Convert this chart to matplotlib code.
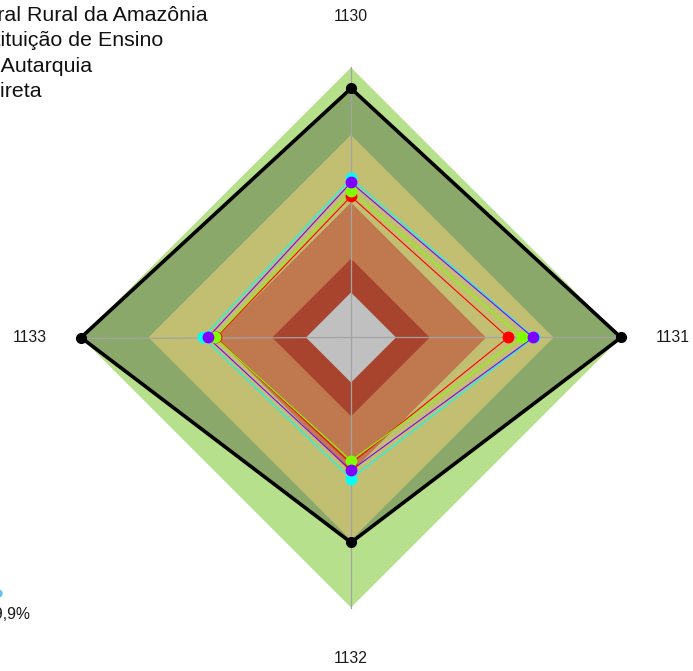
import numpy as np
import matplotlib
matplotlib.use("Agg")
import matplotlib.pyplot as plt
from matplotlib.lines import Line2D

plt.rcParams['font.family'] = ['Liberation Sans', 'DejaVu Sans']

# radar axes (clockwise from top)
axis_labels = ["1130", "1131", "1132", "1133"]

# series values, 0..1
ufra = [0.907, 1.0, 0.711, 1.0]
ensino = [0.427, 0.498, 0.360, 0.400]
autarquia = [0.449, 0.560, 0.347, 0.404]
geral = [0.507, 0.613, 0.427, 0.458]
indireta = [0.489, 0.609, 0.391, 0.436]

legend_labels = ["Universidade Federal Rural da Amazônia", "Instituição de Ensino",
                 "Natureza: Autarquia", "Administração Indireta"]

# background bands (upper limits), outer -> inner
band_limits = [1.0, 0.70, 0.40, 0.15, 0.0]
band_colors = ["#b6e08b", "#c2bf73", "#c0784f", "#a8432d", "#c0c0c0"]

CENTER = 1 / 6  # inner gap of the radar


def radius(v):
    return CENTER + (1 - CENTER) * np.asarray(v, dtype=float)


angles = np.pi / 2 - 2 * np.pi * np.arange(len(axis_labels)) / len(axis_labels)


def to_xy(values):
    r = radius(values)
    x = r * np.cos(angles)
    y = r * np.sin(angles)
    return np.append(x, x[0]), np.append(y, y[0])


W, H = 693, 671
cx, cy, R = 351, 337.5, 270.0
fig = plt.figure(figsize=(W / 100, H / 100), dpi=100)
ax = fig.add_axes([0, 0, 1, 1])
ax.set_xlim(-cx / R, (W - cx) / R)
ax.set_ylim(-(H - cy) / R, cy / R)
ax.axis("off")

# outer band
x, y = to_xy([band_limits[0]] * 4)
ax.fill(x, y, color=band_colors[0], lw=0, zorder=1)

# filled area of the main series
x, y = to_xy(ufra)
ax.fill(x, y, color="#8aa86a", lw=0, zorder=2)

for lim, col in zip(band_limits[1:], band_colors[1:]):
    x, y = to_xy([lim] * 4)
    ax.fill(x, y, color=col, lw=0, zorder=3)

# axis lines
for a in angles:
    ax.plot([0, np.cos(a)], [0, np.sin(a)], color="#a3a3a3", lw=0.9, zorder=4)

for vals, col in [(ensino, "#ff0000"), (autarquia, "#7fff00"),
                  (geral, "#00ffff"), (indireta, "#8000ff")]:
    x, y = to_xy(vals)
    ax.plot(x, y, color=col, lw=0.8, zorder=5)
    ax.plot(x[:-1], y[:-1], "o", color=col, ms=7.5, zorder=6)

x, y = to_xy(ufra)
ax.plot(x, y, color="black", lw=2.6, zorder=7)
ax.plot(x[:-1], y[:-1], "o", color="black", ms=7, zorder=8)

for lab, a in zip(axis_labels, angles):
    ax.text(1.19 * np.cos(a), 1.19 * np.sin(a), lab, ha="center", va="center",
            fontsize=11.3, color="#1a1a1a")

# legend, cut by the left edge of the figure
ends = [208, 163, 92, 42]
for i, (lab, xe) in enumerate(zip(legend_labels, ends)):
    fig.text(xe / W, 1 - (21 + 25.3 * i) / H, lab, ha="right", va="baseline",
             fontsize=15.4, color="#111111")

fig.text(30 / W, 1 - 619 / H, "49,9%", ha="right", va="baseline", fontsize=11.3,
         color="#1a1a1a")
fig.add_artist(Line2D([-2 / W], [1 - 593 / H], marker="o", color="#5ec6ef", ms=5,
                      transform=fig.transFigure))

fig.savefig("out.png", dpi=100)
